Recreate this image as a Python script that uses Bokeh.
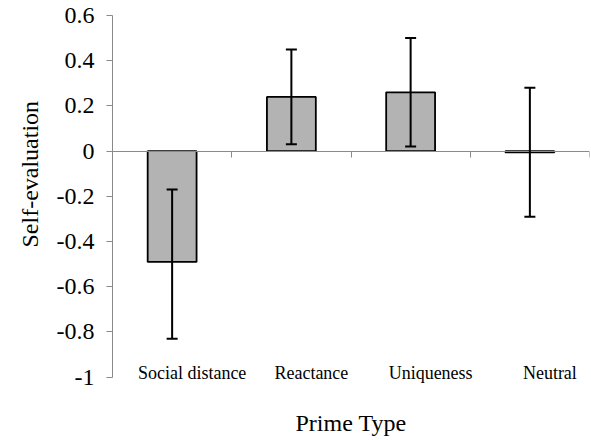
import math
from bokeh.plotting import figure
from bokeh.models import (ColumnDataSource, Whisker, TeeHead, FixedTicker,
                          LinearAxis, Range1d, CustomJSTickFormatter, Title)
from bokeh.core.properties import value
from bokeh.embed import file_html
from bokeh.resources import INLINE

categories = ["Social distance", "Reactance", "Uniqueness", "Neutral"]
means = [-0.49, 0.24, 0.26, -0.005]
err_upper = [-0.17, 0.45, 0.50, 0.28]
err_lower = [-0.83, 0.03, 0.02, -0.29]
y_ticks = [-1, -0.8, -0.6, -0.4, -0.2, 0, 0.2, 0.4, 0.6]
y_tick_labels = ["-1", "-0.8", "-0.6", "-0.4", "-0.2", "0", "0.2", "0.4", "0.6"]

FONT = "Liberation Serif"
xpos = [i + 0.5 for i in range(len(categories))]
boundaries = list(range(len(categories) + 1))

src = ColumnDataSource(dict(x=xpos, top=means, upper=err_upper, lower=err_lower,
                            label=categories, base_y=[y_ticks[0]] * len(categories)))

p = figure(width=591, height=440, output_backend="svg", toolbar_location=None,
           x_range=Range1d(0, len(categories)), y_range=Range1d(-1.05, y_ticks[-1]),
           min_border_left=112, min_border_right=2, min_border_top=15, min_border_bottom=52)
p.outline_line_color = None
p.grid.visible = False
p.background_fill_color = "white"
p.border_fill_color = "white"

# y axis
ya = p.yaxis[0]
ya.ticker = FixedTicker(ticks=y_ticks)
ya.bounds = (y_ticks[0], y_ticks[-1])
ya.formatter = CustomJSTickFormatter(
    args=dict(tvals=y_ticks, tlabels=y_tick_labels),
    code="const i = tvals.findIndex(t => Math.abs(t - tick) < 1e-9); return i >= 0 ? tlabels[i] : '';")
ya.major_label_text_font = FONT
ya.major_label_text_font_size = "24px"
ya.major_label_text_font_style = "normal"
ya.major_label_text_color = "black"
ya.axis_line_color = "#8a8a8a"
ya.major_tick_line_color = "#8a8a8a"
ya.major_tick_in = 0
ya.major_tick_out = 6
ya.minor_tick_line_color = None
ya.major_label_standoff = 12

# narrow blank spacer between the tick labels and the vertical title
sp = LinearAxis(ticker=FixedTicker(ticks=[]))
sp.axis_line_color = None
sp.major_tick_line_color = None
sp.minor_tick_line_color = None
sp.major_tick_in = 0
sp.major_tick_out = 8
p.add_layout(sp, "left")

# vertical axis title
yt = Title(text="Self-evaluation", align="left", offset=141, vertical_align="top",
           standoff=18, text_font=FONT, text_font_size="24px",
           text_font_style="normal", text_color="black")
p.add_layout(yt, "left")

# bottom axis used only for its title
xa = p.xaxis[0]
xa.ticker = FixedTicker(ticks=[])
xa.axis_line_color = None
xa.major_tick_line_color = None
xa.minor_tick_line_color = None
xa.axis_label = "Prime Type"
xa.axis_label_text_font = FONT
xa.axis_label_text_font_size = "24px"
xa.axis_label_text_font_style = "normal"
xa.axis_label_text_color = "black"
xa.axis_label_standoff = 21

# zero-crossing category axis with boundary ticks
za = LinearAxis(fixed_location=0, ticker=FixedTicker(ticks=boundaries))
za.major_label_overrides = {b: "" for b in boundaries}
za.axis_line_color = "#8a8a8a"
za.major_tick_line_color = "#8a8a8a"
za.major_tick_in = 0
za.major_tick_out = 6
za.minor_tick_line_color = None
p.add_layout(za, "below")

p.vbar(x="x", top="top", bottom=0, width=0.41, source=src,
       fill_color="#b3b3b3", line_color="black", line_width=1.8)

w = Whisker(base="x", upper="upper", lower="lower", source=src,
            line_color="black", line_width=2, level="overlay",
            upper_head=TeeHead(size=11, line_color="black", line_width=2),
            lower_head=TeeHead(size=11, line_color="black", line_width=2))
p.add_layout(w)

p.text(x="x", y="base_y", text="label", source=src, x_offset=20, y_offset=-4,
       text_align="center", text_baseline="alphabetic",
       text_font=value(FONT), text_font_size="18px", text_color="black")

open("out.html", "w").write(file_html(p, INLINE))
